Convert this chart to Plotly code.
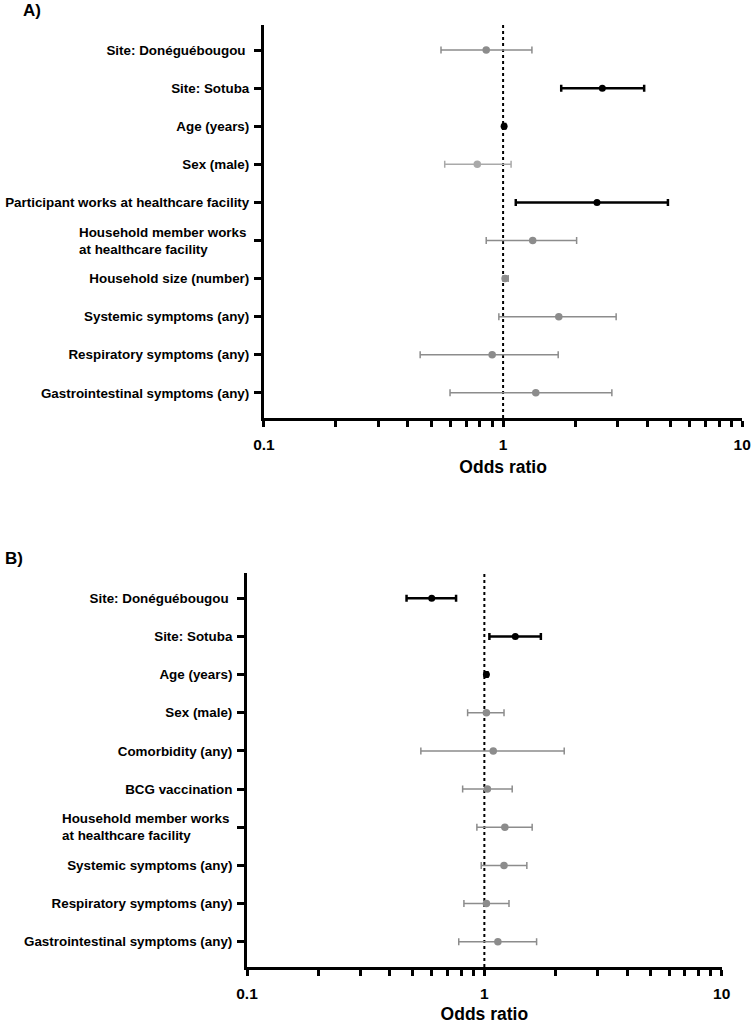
import plotly.graph_objects as go

# ---------------- data ----------------
labels_a = ["Site: Donéguébougou ", "Site: Sotuba", "Age (years)", "Sex (male)",
            "Participant works at healthcare facility",
            "Household member works<br>at healthcare facility",
            "Household size (number)", "Systemic symptoms (any)",
            "Respiratory symptoms (any)", "Gastrointestinal symptoms (any)"]
or_a = [0.85, 2.60, 1.01, 0.78, 2.47, 1.33, 1.02, 1.71, 0.90, 1.37]
lo_a = [0.55, 1.75, 1.00, 0.57, 1.13, 0.85, 1.00, 0.96, 0.45, 0.60]
hi_a = [1.32, 3.89, 1.02, 1.08, 4.89, 2.03, 1.05, 2.97, 1.70, 2.85]
grp_a = ["ns", "sig", "sig", "light", "sig", "ns", "ns", "ns", "ns", "ns"]

labels_b = ["Site: Donéguébougou ", "Site: Sotuba", "Age (years)", "Sex (male)",
            "Comorbidity (any)", "BCG vaccination",
            "Household member works<br>at healthcare facility",
            "Systemic symptoms (any)", "Respiratory symptoms (any)",
            "Gastrointestinal symptoms (any)"]
or_b = [0.60, 1.35, 1.02, 1.02, 1.09, 1.03, 1.22, 1.21, 1.02, 1.14]
lo_b = [0.47, 1.05, 1.01, 0.85, 0.54, 0.81, 0.93, 0.97, 0.82, 0.78]
hi_b = [0.76, 1.73, 1.03, 1.21, 2.17, 1.31, 1.59, 1.51, 1.27, 1.66]
grp_b = ["sig", "sig", "sig", "ns", "ns", "ns", "ns", "ns", "ns", "ns"]

x_ticks = [0.1, 1, 10]
x_ticktext = ["0.1", "1", "10"]
minor_ticks = [0.2, 0.3, 0.4, 0.5, 0.6, 0.7, 0.8, 0.9, 2, 3, 4, 5, 6, 7, 8, 9]

# ---------------- styles ----------------
styles = {
    "sig": dict(color="#000000", size=7, thick=2.5, cap=3.5),
    "ns": dict(color="#8c8c8c", size=7.5, thick=1.5, cap=3.5),
    "light": dict(color="#a9a9a9", size=7.5, thick=1.5, cap=3.5),
}
FONT = "Liberation Sans, Arial, sans-serif"
LABEL_SIZE = 13.4

fig = go.Figure()

def add_panel(labels, ors, los, his, grps, xa, ya):
    for g in ["light", "ns", "sig"]:
        idx = [i for i, gg in enumerate(grps) if gg == g]
        if not idx:
            continue
        st = styles[g]
        fig.add_trace(go.Scatter(
            x=[ors[i] for i in idx], y=[i for i in idx],
            mode="markers", xaxis=xa, yaxis=ya, showlegend=False,
            marker=dict(color=st["color"], size=st["size"]),
            error_x=dict(type="data", symmetric=False,
                         array=[his[i] - ors[i] for i in idx],
                         arrayminus=[ors[i] - los[i] for i in idx],
                         color=st["color"], thickness=st["thick"], width=st["cap"]),
        ))

add_panel(labels_a, or_a, lo_a, hi_a, grp_a, "x", "y")
add_panel(labels_b, or_b, lo_b, hi_b, grp_b, "x2", "y2")

def xaxis_cfg(domain, anchor):
    return dict(type="log", domain=domain, anchor=anchor, range=[-1, 1],
                automargin=False,
                tickvals=x_ticks, ticktext=x_ticktext, ticks="outside",
                ticklen=6, tickwidth=3, tickcolor="black", ticklabelstandoff=4,
                showline=True, linewidth=3, linecolor="black",
                showgrid=False, zeroline=False,
                tickfont=dict(family=FONT, size=15.5, color="black", weight="bold"),
                title=dict(text="Odds ratio", standoff=10,
                           font=dict(family=FONT, size=17.5, color="black", weight="bold")),
                minor=dict(tickvals=minor_ticks, ticks="outside", ticklen=6,
                           tickwidth=3, tickcolor="black", showgrid=False))

def yaxis_cfg(domain, anchor, labels):
    txt = ["" if "<br>" in l else l for l in labels]
    return dict(domain=domain, anchor=anchor, range=[9.66, -0.66],
                automargin=False,
                tickvals=list(range(len(labels))), ticktext=txt,
                ticks="outside", ticklen=7, tickwidth=3, tickcolor="black",
                ticklabelstandoff=2,
                showline=True, linewidth=3, linecolor="black",
                showgrid=False, zeroline=False,
                tickfont=dict(family=FONT, size=LABEL_SIZE, color="black", weight="bold"))

fig.update_layout(
    width=752, height=1024, margin=dict(l=0, r=0, t=0, b=0),
    paper_bgcolor="white", plot_bgcolor="white",
    xaxis=xaxis_cfg([0.351, 0.987], "y"),
    yaxis=yaxis_cfg([0.5918, 0.9756], "x", labels_a),
    xaxis2=xaxis_cfg([0.3285, 0.9597], "y2"),
    yaxis2=yaxis_cfg([0.0557, 0.4404], "x2", labels_b),
)

# reference line at OR = 1
for xr, yr in [("x", "y domain"), ("x2", "y2 domain")]:
    fig.add_shape(type="line", xref=xr, yref=yr, x0=1, x1=1, y0=0, y1=1,
                  line=dict(color="black", width=2, dash="dot"), layer="below")

# multi-line (left-aligned) labels
for labels, xr, yr in [(labels_a, "x domain", "y"), (labels_b, "x2 domain", "y2")]:
    for i, l in enumerate(labels):
        if "<br>" in l:
            fig.add_annotation(x=0, y=i, xref=xr, yref=yr, text=l, showarrow=False,
                               xanchor="right", yanchor="middle", align="left",
                               xshift=-16,
                               font=dict(family=FONT, size=LABEL_SIZE, color="black",
                                         weight="bold"))

# panel letters
fig.add_annotation(x=21 / 752, y=1 - 10.5 / 1024, xref="paper", yref="paper", text="A)",
                   showarrow=False, xanchor="left", yanchor="middle",
                   font=dict(family=FONT, size=17, color="black", weight="bold"))
fig.add_annotation(x=3 / 752, y=1 - 558 / 1024, xref="paper", yref="paper", text="B)",
                   showarrow=False, xanchor="left", yanchor="middle",
                   font=dict(family=FONT, size=17, color="black", weight="bold"))

fig.write_html("out.html", config={"displayModeBar": False},
               post_script="document.body.style.margin='0';"
                           "document.body.style.overflow='hidden';")
